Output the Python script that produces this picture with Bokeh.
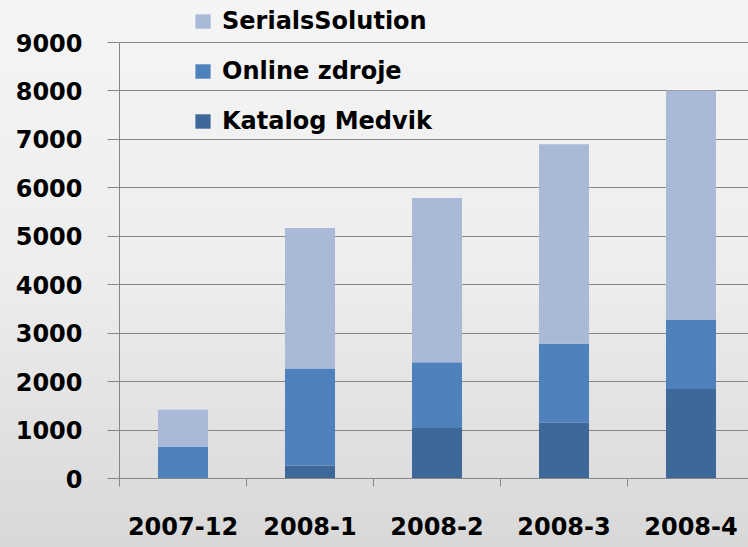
from bokeh.plotting import figure
from bokeh.models import (Range1d, FixedTicker, Legend, LegendItem, ColumnDataSource)
from bokeh.embed import file_html
from bokeh.resources import INLINE

# ---- data ----
categories = ["2007-12", "2008-1", "2008-2", "2008-3", "2008-4"]
katalog_medvik = [0, 270, 1040, 1150, 1850]
online_zdroje = [650, 2000, 1360, 1630, 1420]
serials_solution = [770, 2900, 3390, 4120, 4740]
y_ticks = [0, 1000, 2000, 3000, 4000, 5000, 6000, 7000, 8000, 9000]
series_names = ["Katalog Medvik", "Online zdroje", "SerialsSolution"]
series_colors = ["#3E6899", "#4F81BD", "#AAB9D7"]

W, H = 748, 547
LEFT, BOTTOM = 119, 69          # frame borders in px
FONT = "DejaVu Sans"
FSIZE = "24px"
GRID = "#868686"
Y_MAX = 9000
frame_h = H - BOTTOM
y_end = Y_MAX * frame_h / (frame_h - 42)   # 9000 gridline sits 42px below the top
x_end = (W - LEFT) / 127.0                 # one category = 127px

x_pos = [i + 0.5 for i in range(len(categories))]
source = ColumnDataSource(dict(x=x_pos, katalog=katalog_medvik,
                               online=online_zdroje, serials=serials_solution))

p = figure(width=W, height=H, x_range=Range1d(0, x_end), y_range=Range1d(0, y_end),
           output_backend="svg", toolbar_location=None,
           min_border_left=LEFT, min_border_right=0, min_border_top=0,
           min_border_bottom=BOTTOM)
p.outline_line_color = None
p.background_fill_color = None
p.border_fill_color = None
# vertical gradient behind the whole (transparent) canvas
p.styles = {"background": "linear-gradient(to bottom, #F5F5F5 0%, #EDEDED 50%, #D8D8D8 100%)"}

rs = p.vbar_stack(["katalog", "online", "serials"], x="x", width=0.394,
                  color=series_colors, line_color=None, source=source)

# x axis
p.xaxis.ticker = FixedTicker(ticks=x_pos, minor_ticks=list(range(len(categories) + 1)))
p.xaxis.major_label_overrides = {xp: c for xp, c in zip(x_pos, categories)}
p.xaxis.major_tick_out = 0
p.xaxis.major_tick_in = 0
p.xaxis.minor_tick_out = 8
p.xaxis.minor_tick_in = 0
p.xaxis.minor_tick_line_color = GRID
p.xaxis.major_label_standoff = 30
p.xaxis.axis_line_color = GRID
p.xgrid.visible = False

# y axis
p.yaxis.ticker = FixedTicker(ticks=y_ticks, minor_ticks=[])
p.yaxis.bounds = (0, Y_MAX)
p.yaxis.major_tick_out = 12
p.yaxis.major_tick_in = 0
p.yaxis.major_tick_line_color = GRID
p.yaxis.axis_line_color = GRID
p.yaxis.major_label_standoff = 25
p.ygrid.ticker = FixedTicker(ticks=y_ticks, minor_ticks=[])
p.ygrid.grid_line_color = GRID
p.ygrid.grid_line_width = 1

for ax in (p.xaxis, p.yaxis):
    ax.major_label_text_font = FONT
    ax.major_label_text_font_style = "bold"
    ax.major_label_text_font_size = FSIZE
    ax.major_label_text_color = "#000000"
    ax.axis_line_width = 1

legend = Legend(items=[LegendItem(label=series_names[2], renderers=[rs[2]]),
                       LegendItem(label=series_names[1], renderers=[rs[1]]),
                       LegendItem(label=series_names[0], renderers=[rs[0]])],
                location=(74, 343), orientation="vertical",
                label_text_font=FONT, label_text_font_style="bold",
                label_text_font_size=FSIZE, label_text_color="#000000",
                glyph_width=19, glyph_height=18, label_height=18,
                label_standoff=10, spacing=22, padding=0, margin=0,
                background_fill_alpha=0, border_line_color=None)
p.add_layout(legend)

open("out.html", "w").write(file_html(p, INLINE))
